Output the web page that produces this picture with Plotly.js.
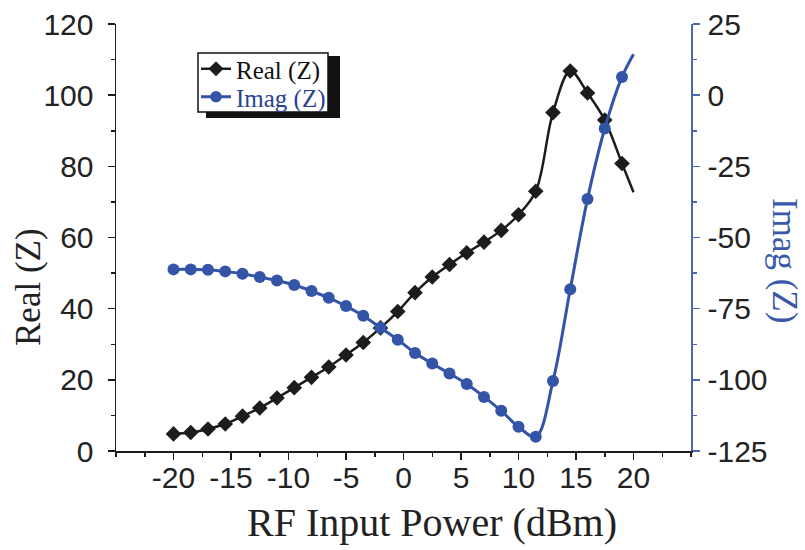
<!DOCTYPE html>
<html>
<head>
<meta charset="utf-8">
<script src="https://cdn.plot.ly/plotly-3.0.1.min.js"></script>
<style>
  html, body { margin: 0; padding: 0; background: #fff; }
  #chart { width: 805px; height: 550px; }
</style>
</head>
<body>
<div id="chart"></div>
<script>
// RF input power (dBm); the last entry is where the fitted curves end (no marker)
const power = [-20, -18.5, -17, -15.5, -14, -12.5, -11, -9.5, -8, -6.5, -5, -3.5, -2, -0.5,
               1, 2.5, 4, 5.5, 7, 8.5, 10, 11.5, 13, 14.5, 16, 17.5, 19, 20];
const realZ = [4.8, 5.2, 6.2, 7.6, 9.8, 12.1, 14.9, 17.8, 20.7, 23.6, 27.0, 30.5, 34.6, 39.2,
               44.5, 48.9, 52.4, 55.7, 58.7, 62.0, 66.4, 73.0, 95.1, 106.8, 100.6, 93.0, 80.8, 72.7];
const imagZ = [-61.2, -61.2, -61.3, -61.9, -62.7, -63.9, -65.1, -66.7, -68.8, -71.2, -74.1, -77.5, -81.7, -85.9,
               -90.6, -94.3, -97.8, -101.5, -106.0, -110.9, -116.5, -120.0, -100.4, -68.2, -36.5, -11.7, 6.4, 14.4];

const xTickVals = [-20, -15, -10, -5, 0, 5, 10, 15, 20];
const xTickText = ['-20', '-15', '-10', '-5', '0', '5', '10', '15', '20'];
const realTickVals = [0, 20, 40, 60, 80, 100, 120];
const realTickText = ['0', '20', '40', '60', '80', '100', '120'];
const imagTickVals = [-125, -100, -75, -50, -25, 0, 25];
const imagTickText = ['-125', '-100', '-75', '-50', '-25', '0', '25'];

const BLACK = '#1c1c1c';
const BLUE = '#3454a8';
const AXBLUE = '#4a68b2';
const last = power.length - 1;
const sizes = (s) => power.map((_, i) => (i < last ? s : 0));

const tickFont = { family: 'Arial', size: 30, color: '#222' };
const serif = 'Times New Roman';

// plot-area geometry in pixels (used only to place decorations / text in paper units)
const L = 116, T = 24, PW = 575, PH = 427;
const px = (x) => (x - L) / PW;
const py = (y) => (T + PH - y) / PH;

const traces = [
  {
    x: power, y: realZ, type: 'scatter', mode: 'lines+markers',
    name: 'Real (Z)', legend: 'legend',
    line: { color: BLACK, width: 2.5, shape: 'spline', smoothing: 1 },
    marker: { symbol: 'diamond', size: sizes(12), color: BLACK, opacity: 1, line: { width: 0 } },
    xaxis: 'x', yaxis: 'y'
  },
  {
    x: power, y: imagZ, type: 'scatter', mode: 'lines+markers',
    name: '<span style="color:#2b3f92">Imag (Z)</span>', legend: 'legend2',
    line: { color: BLUE, width: 3, shape: 'spline', smoothing: 1 },
    marker: { symbol: 'circle', size: sizes(12), color: BLUE, opacity: 1, line: { width: 0 } },
    xaxis: 'x', yaxis: 'y2'
  }
];

const legendBase = {
  xanchor: 'left', yanchor: 'middle',
  bgcolor: 'rgba(0,0,0,0)', borderwidth: 0,
  font: { family: serif, size: 25, color: '#111' }
};

const minorX = (dir) => ({ tickmode: 'linear', tick0: -25, dtick: 2.5, ticks: dir, ticklen: 4, tickwidth: 1.5, tickcolor: BLACK, showgrid: false });

const layout = {
  width: 805, height: 550,
  margin: { l: L, r: 805 - L - PW, t: T, b: 550 - T - PH },
  paper_bgcolor: '#fff', plot_bgcolor: '#fff',
  showlegend: true,
  legend: Object.assign({}, legendBase, { x: px(196), y: py(69) }),
  legend2: Object.assign({}, legendBase, { x: px(196), y: py(97) }),
  xaxis: {
    range: [-25, 25], showgrid: false, zeroline: false,
    showline: true, linecolor: BLACK, linewidth: 1.5,
    ticks: 'outside', ticklen: 7, tickwidth: 1.5, tickcolor: BLACK,
    tickmode: 'array', tickvals: xTickVals, ticktext: xTickText,
    tickfont: tickFont, ticklabelstandoff: -8,
    minor: minorX('outside')
  },
  // top frame line with inward ticks
  xaxis2: {
    range: [-25, 25], overlaying: 'x', side: 'top', anchor: 'y',
    showgrid: false, zeroline: false, showticklabels: false,
    showline: true, linecolor: BLACK, linewidth: 1.5,
    ticks: 'inside', ticklen: 4, tickwidth: 1.5, tickcolor: BLACK,
    tickmode: 'array', tickvals: xTickVals,
    minor: minorX('inside')
  },
  yaxis: {
    range: [0, 120], showgrid: false, zeroline: false,
    showline: true, linecolor: BLACK, linewidth: 1.5,
    ticks: 'outside', ticklen: 7, tickwidth: 1.5, tickcolor: BLACK,
    tickmode: 'array', tickvals: realTickVals, ticktext: realTickText,
    tickfont: tickFont, ticklabelstandoff: 8,
    minor: { tickmode: 'linear', tick0: 0, dtick: 10, ticks: 'outside', ticklen: 4, tickwidth: 1.5, tickcolor: BLACK, showgrid: false }
  },
  yaxis2: {
    range: [-125, 25], overlaying: 'y', side: 'right', anchor: 'x',
    showgrid: false, zeroline: false,
    showline: true, linecolor: AXBLUE, linewidth: 1.5,
    ticks: 'outside', ticklen: 7, tickwidth: 1.5, tickcolor: AXBLUE,
    tickmode: 'array', tickvals: imagTickVals, ticktext: imagTickText,
    tickfont: tickFont, ticklabelstandoff: 2,
    minor: { tickmode: 'linear', tick0: -125, dtick: 12.5, ticks: 'outside', ticklen: 4, tickwidth: 1.5, tickcolor: AXBLUE, showgrid: false }
  },
  shapes: [
    // legend drop shadow and frame
    { type: 'rect', xref: 'paper', yref: 'paper', layer: 'above',
      x0: px(206), x1: px(340), y0: py(118), y1: py(56),
      fillcolor: '#111', line: { width: 0 } },
    { type: 'rect', xref: 'paper', yref: 'paper', layer: 'above',
      x0: px(198), x1: px(328), y0: py(112), y1: py(53),
      fillcolor: '#fff', line: { color: '#111', width: 1.5 } }
  ],
  annotations: [
    { text: 'RF Input Power (dBm)', xref: 'paper', yref: 'paper',
      x: px(432), y: py(522), xanchor: 'center', yanchor: 'middle',
      showarrow: false, font: { family: serif, size: 40, color: '#222' } },
    { text: 'Real (Z)', xref: 'paper', yref: 'paper',
      x: px(28), y: py(287), xanchor: 'center', yanchor: 'middle',
      textangle: -90, showarrow: false, font: { family: serif, size: 35, color: '#222' } },
    { text: 'Imag (Z)', xref: 'paper', yref: 'paper',
      x: px(785), y: py(260), xanchor: 'center', yanchor: 'middle',
      textangle: 90, showarrow: false, font: { family: serif, size: 35, color: '#3a59aa' } }
  ]
};

Plotly.newPlot('chart', traces, layout, { displayModeBar: false, staticPlot: true });
</script>
</body>
</html>
